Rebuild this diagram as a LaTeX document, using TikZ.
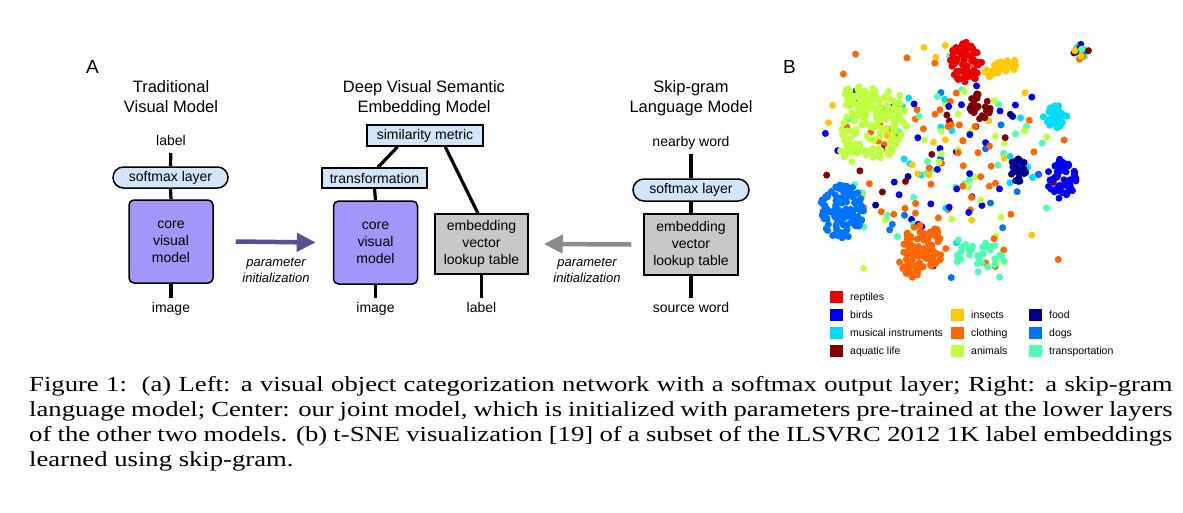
\documentclass[tikz,border=0pt]{standalone}
\usepackage{fontspec}
\usepackage{graphicx}
\setmainfont{Liberation Sans}
\newfontfamily\capfont{Liberation Serif}
\usetikzlibrary{arrows.meta,calc}

\definecolor{lblue}{HTML}{D3E5FA}
\definecolor{corep}{HTML}{A396F9}
\definecolor{embg}{HTML}{C8C8C8}
\definecolor{parrc}{HTML}{585090}
\definecolor{garrc}{HTML}{8C8C8C}
\definecolor{rdC}{HTML}{EE0000}
\definecolor{blC}{HTML}{0000F0}
\definecolor{cyC}{HTML}{00DDFF}
\definecolor{drC}{HTML}{800000}
\definecolor{gdC}{HTML}{FFC800}
\definecolor{orC}{HTML}{FF6600}
\definecolor{grC}{HTML}{BFFF40}
\definecolor{nvC}{HTML}{00008B}
\definecolor{azC}{HTML}{0073FF}
\definecolor{aqC}{HTML}{4DFFB3}
% weighted palette for scattered points
\colorlet{sc0}{orC}\colorlet{sc1}{orC}\colorlet{sc2}{orC}\colorlet{sc3}{grC}
\colorlet{sc4}{grC}\colorlet{sc5}{aqC}\colorlet{sc6}{aqC}\colorlet{sc7}{blC}
\colorlet{sc8}{blC}\colorlet{sc9}{nvC}\colorlet{sc10}{drC}\colorlet{sc11}{gdC}
\colorlet{sc12}{cyC}\colorlet{sc13}{azC}\colorlet{sc14}{orC}

\newcommand\dotrad{3.5}
% disk cluster: cx cy rx ry n color
\newcommand\dotcluster[6]{%
  \foreach \i in {1,...,#5}{%
    \pgfmathsetmacro\rr{sqrt(rnd)}%
    \pgfmathsetmacro\aa{360*rnd}%
    \pgfmathsetmacro\px{#1+#3*\rr*cos(\aa)}%
    \pgfmathsetmacro\py{#2+#4*\rr*sin(\aa)}%
    \fill[#6] (\px,\py) circle (\dotrad);
  }}
% random-colour cluster: cx cy rx ry n
\newcommand\mixcluster[5]{%
  \foreach \i in {1,...,#5}{%
    \pgfmathsetmacro\rr{sqrt(rnd)}%
    \pgfmathsetmacro\aa{360*rnd}%
    \pgfmathsetmacro\px{#1+#3*\rr*cos(\aa)}%
    \pgfmathsetmacro\py{#2+#4*\rr*sin(\aa)}%
    \pgfmathtruncatemacro\kk{random(0,14)}%
    \fill[sc\kk] (\px,\py) circle (\dotrad);
  }}
\newcommand\capline[1]{\scalebox{1.24}[1]{\makebox[922pt][s]{#1}}}

\begin{document}
\begin{tikzpicture}[x=1pt,y=-1pt,
  lbl/.style={inner sep=0pt, anchor=base, font=\fontsize{14}{17}\selectfont},
  ttl/.style={inner sep=0pt, anchor=base, font=\fontsize{16.5}{20}\selectfont},
  itl/.style={inner sep=0pt, anchor=base, font=\fontsize{13}{16}\selectfont\itshape},
  pill/.style={draw, line width=1.5pt, fill=lblue, rounded corners=10.5pt, minimum width=115pt, minimum height=21pt, inner sep=0pt, font=\fontsize{14}{17}\selectfont},
  rbox/.style={draw, line width=1.5pt, fill=lblue, inner sep=0pt, font=\fontsize{14}{17}\selectfont},
  corebox/.style={draw, line width=1.5pt, fill=corep, rounded corners=5pt, minimum width=84pt, minimum height=83pt, inner sep=0pt, align=center, font=\fontsize{14}{17}\selectfont},
  embbox/.style={draw, line width=1.5pt, fill=embg, minimum width=93pt, minimum height=60pt, inner sep=0pt, align=center, font=\fontsize{14}{17}\selectfont},
  conn/.style={line width=3.2pt},
  bigarrow/.style={line width=4.5pt, -{Triangle[length=19pt,width=18pt]}},
  panel/.style={inner sep=0pt, anchor=base west, font=\fontsize{19}{22}\selectfont},
  leg/.style={inner sep=0pt, anchor=base west, font=\fontsize{10.5}{12}\selectfont},
  captxt/.style={inner sep=0pt, anchor=base west, font=\capfont\fontsize{21.5}{25}\selectfont}
]
\useasboundingbox[fill=white] (0,0) rectangle (1183,512);

% ---------- panel A ----------
\node[panel] (pA) at (86,73) {A};

% left model
\node[ttl] (t1a) at (171,92) {Traditional};
\node[ttl] (t1b) at (171,112) {Visual Model};
\node[lbl] (lab1) at (171,145) {label};
\node[pill] (smx1) at (170.5,177.5) {softmax layer};
\node[corebox] (core1) at (171,241.5) {core\\visual\\model};
\node[lbl] (img1) at (171,312) {image};
\draw[conn, shorten <=8pt] (lab1.base) -- (smx1.north);
\draw[conn] (smx1.south) -- (core1.north);
\draw[conn] (core1.south) -- ([yshift=14pt]img1.base);

% centre model
\node[ttl] (t2a) at (424,92) {Deep Visual Semantic};
\node[ttl] (t2b) at (424,112) {Embedding Model};
\node[rbox, minimum width=116pt, minimum height=21pt] (sim) at (425,135.5) {similarity metric};
\node[rbox, minimum width=105pt, minimum height=20pt] (trans) at (374.5,178) {transformation};
\node[corebox] (core2) at (375.5,242.5) {core\\visual\\model};
\node[lbl] (img2) at (375.5,312) {image};
\node[embbox] (emb2) at (481.5,244) {embedding\\vector\\lookup table};
\node[lbl] (lab2) at (481.5,312) {label};
\draw[conn] ($(sim.south west)!0.267!(sim.south east)$) -- ($(trans.north west)!0.533!(trans.north east)$);
\draw[conn] ($(sim.south west)!0.672!(sim.south east)$) -- ($(emb2.north west)!0.462!(emb2.north east)$);
\draw[conn] (trans.south) -- (core2.north);
\draw[conn] (core2.south) -- ([yshift=14pt]img2.base);
\draw[conn] (emb2.south) -- ([yshift=14pt]lab2.base);

% right model
\node[ttl] (t3a) at (691,92) {Skip-gram};
\node[ttl] (t3b) at (691,112) {Language Model};
\node[lbl] (nbw) at (691,146) {nearby word};
\node[pill, minimum width=116pt, minimum height=22pt, rounded corners=11pt] (smx3) at (691,190) {softmax layer};
\node[embbox, minimum width=94pt, minimum height=61pt] (emb3) at (691,244.5) {embedding\\vector\\lookup table};
\node[lbl] (srcw) at (691,312) {source word};
\draw[conn, shorten <=8pt] (nbw.base) -- (smx3.north);
\draw[conn] (smx3.south) -- (emb3.north);
\draw[conn] (emb3.south) -- ([yshift=14pt]srcw.base);

% parameter initialization arrows
\draw[bigarrow, parrc] ([xshift=22pt]core1.east) -- ([xshift=-17pt]core2.west);
\node[itl] (pi1a) at (276,266) {parameter};
\node[itl] (pi1b) at (276,282) {initialization};
\draw[bigarrow, garrc] ([xshift=-12pt]emb3.west) -- ([xshift=15pt]emb2.east);
\node[itl] (pi2a) at (587,266) {parameter};
\node[itl] (pi2b) at (587,282) {initialization};

% ---------- panel B ----------
\node[panel] (pB) at (783,73) {B};
\pgfmathsetseed{4711}
% scattered background points
\foreach \i in {1,...,230}{%
  \pgfmathsetmacro\px{945+130*(rand+0.6*rand)/1.6}%
  \pgfmathsetmacro\py{163+125*(rand+0.6*rand)/1.6}%
  \pgfmathtruncatemacro\kk{random(0,14)}%
  \fill[sc\kk] (\px,\py) circle (\dotrad);
}
% clusters
\dotcluster{874}{124}{34}{36}{140}{grC}
\dotcluster{858}{100}{18}{16}{30}{grC}
\dotcluster{852}{150}{12}{12}{14}{grC}
\dotcluster{842}{211}{22}{27}{130}{azC}
\dotcluster{966}{62}{16}{21}{75}{rdC}
\foreach \i in {1,...,35}{%
  \pgfmathsetmacro\dx{18*(rand+rand)/2}%
  \pgfmathsetmacro\dy{7*(rand+rand)/2-0.45*\dx}%
  \fill[gdC] (1000+\dx,68+\dy) circle (\dotrad);
}
\dotcluster{980}{106}{11}{14}{24}{drC}
\dotcluster{1055}{117}{12}{12}{32}{cyC}
\dotcluster{1062}{179}{15}{20}{60}{blC}
\dotcluster{1018}{170}{9}{13}{22}{nvC}
\dotcluster{924}{246}{22}{22}{75}{orC}
\dotcluster{911}{268}{10}{14}{16}{orC}
\dotcluster{980}{257}{26}{15}{35}{aqC}
\mixcluster{1081}{52}{8}{8}{22}

% legend
\fill[rdC] (830,291) rectangle ++(13,12);
\node[leg] (lg1) at (850,300) {reptiles};
\fill[blC] (830,309) rectangle ++(13,12);
\node[leg] (lg2) at (850,318) {birds};
\fill[cyC] (830,327) rectangle ++(13,12);
\node[leg] (lg3) at (850,336) {musical instruments};
\fill[drC] (830,345) rectangle ++(13,12);
\node[leg] (lg4) at (850,354) {aquatic life};
\fill[gdC] (951,309) rectangle ++(13,12);
\node[leg] (lg5) at (971,318) {insects};
\fill[orC] (951,327) rectangle ++(13,12);
\node[leg] (lg6) at (971,336) {clothing};
\fill[grC] (951,345) rectangle ++(13,12);
\node[leg] (lg7) at (971,354) {animals};
\fill[nvC] (1029,309) rectangle ++(13,12);
\node[leg] (lg8) at (1049,318) {food};
\fill[azC] (1029,327) rectangle ++(13,12);
\node[leg] (lg9) at (1049,336) {dogs};
\fill[aqC] (1029,345) rectangle ++(13,12);
\node[leg] (lg10) at (1049,354) {transportation};

% ---------- caption ----------
\node[captxt] (cap1) at (29,391) {\capline{Figure 1:\ \ (a) Left: a visual object categorization network with a softmax output layer; Right: a skip-gram}};
\node[captxt] (cap2) at (29,416) {\capline{language model; Center: our joint model, which is initialized with parameters pre-trained at the lower layers}};
\node[captxt] (cap3) at (29,441) {\capline{of the other two models. (b) t-SNE visualization [19] of a subset of the ILSVRC 2012 1K label embeddings}};
\node[captxt] (cap4) at (29,466) {\scalebox{1.24}[1]{learned using skip-gram.}};
\end{tikzpicture}
\end{document}
